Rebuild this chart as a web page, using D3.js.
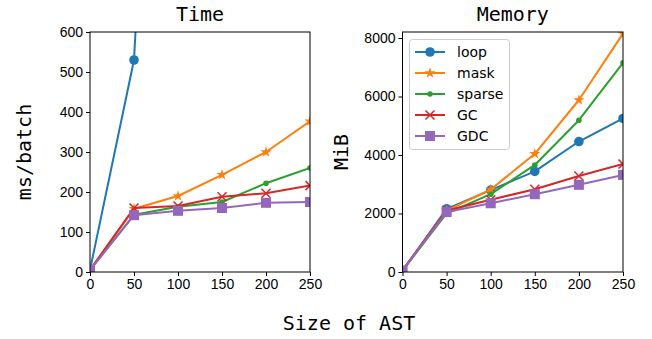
<!DOCTYPE html>
<html>
<head>
<meta charset="utf-8">
<script src="https://d3js.org/d3.v7.min.js"></script>
<style>
  body { margin: 0; background: #fff; }
  svg { font-family: 'DejaVu Sans', sans-serif; }
  .mono { font-family: 'DejaVu Sans Mono', monospace; }
  .tick text { font-size: 14px; fill: #000; }
  .tick line, .domain { stroke: #000; }
</style>
</head>
<body>
<div id="chart"></div>
<script>
// ---- data ----
var sizes = [0, 50, 100, 150, 200, 250];
var names = ["loop", "mask", "sparse", "GC", "GDC"];
var colors = ["#1f77b4", "#ff7f0e", "#2ca02c", "#d62728", "#9467bd"];

// ms/batch (loop leaves the chart after 50)
var timeLoop   = [5, 530, 2600];
var timeMask   = [5, 158, 190, 243, 300, 377];
var timeSparse = [5, 143, 163, 175, 222, 260];
var timeGC     = [5, 160, 165, 188, 197, 216];
var timeGDC    = [5, 142, 153, 160, 173, 175];

// MiB
var memLoop   = [50, 2160, 2800, 3440, 4460, 5250];
var memMask   = [50, 2100, 2820, 4040, 5880, 8150];
var memSparse = [50, 2000, 2660, 3660, 5190, 7150];
var memGC     = [50, 2100, 2470, 2830, 3280, 3690];
var memGDC    = [50, 2050, 2350, 2660, 2980, 3320];

var timeTicks = [0, 100, 200, 300, 400, 500, 600];
var memTicks = [0, 2000, 4000, 6000, 8000];
var xTicks = [0, 50, 100, 150, 200, 250];

var width = 652, height = 339;
var plotTop = 32, plotBottom = 272;

var svg = d3.select("#chart").append("svg")
    .attr("width", width).attr("height", height);

function drawMarker(g, kind, color, x, y) {
  if (kind === "loop") {
    g.append("circle").attr("cx", x).attr("cy", y).attr("r", 4.8).attr("fill", color);
  } else if (kind === "mask") {
    g.append("path").attr("d", d3.symbol().type(d3.symbolStar).size(38)())
      .attr("transform", `translate(${x},${y})`).attr("fill", color);
  } else if (kind === "sparse") {
    g.append("circle").attr("cx", x).attr("cy", y).attr("r", 2.8).attr("fill", color);
  } else if (kind === "GC") {
    var s = 4.5;
    g.append("path").attr("d", `M${x-s},${y-s}L${x+s},${y+s}M${x-s},${y+s}L${x+s},${y-s}`)
      .attr("stroke", color).attr("stroke-width", 1.5).attr("fill", "none");
  } else {
    g.append("rect").attr("x", x - 5).attr("y", y - 5).attr("width", 10).attr("height", 10)
      .attr("fill", color);
  }
}

function panel(id, left, right, ymax, ticks, series, title, ylabel, ylabelX) {
  var x = d3.scaleLinear().domain([0, 250]).range([left, right]);
  var y = d3.scaleLinear().domain([0, ymax]).range([plotBottom, plotTop]);

  svg.append("clipPath").attr("id", id)
    .append("rect").attr("x", left).attr("y", plotTop)
    .attr("width", right - left).attr("height", plotBottom - plotTop);

  var plot = svg.append("g").attr("clip-path", `url(#${id})`);
  var line = d3.line().x((d, i) => x(sizes[i])).y(d => y(d));

  series.forEach(function(vals, k) {
    var g = plot.append("g");
    g.append("path").datum(vals).attr("d", line)
      .attr("fill", "none").attr("stroke", colors[k]).attr("stroke-width", 2)
      .attr("stroke-linejoin", "round");
    vals.forEach(function(v, i) { drawMarker(g, names[k], colors[k], x(sizes[i]), y(v)); });
  });

  svg.append("g").attr("transform", `translate(0,${plotBottom})`)
    .call(d3.axisBottom(x).tickValues(xTicks).tickSize(4).tickPadding(3).tickFormat(d3.format("d")))
    .call(g => g.select(".domain").remove());
  svg.append("g").attr("transform", `translate(${left},0)`)
    .call(d3.axisLeft(y).tickValues(ticks).tickSize(4).tickPadding(3).tickFormat(d3.format("d")))
    .call(g => g.select(".domain").remove());

  svg.append("rect").attr("x", left).attr("y", plotTop)
    .attr("width", right - left).attr("height", plotBottom - plotTop)
    .attr("fill", "none").attr("stroke", "#000").attr("stroke-width", 1);

  svg.append("text").attr("class", "mono")
    .attr("x", (left + right) / 2).attr("y", 21)
    .attr("text-anchor", "middle").style("font-size", "20px").text(title);

  svg.append("text").attr("class", "mono")
    .attr("transform", `translate(${ylabelX},${(plotTop + plotBottom) / 2}) rotate(-90)`)
    .attr("text-anchor", "middle").style("font-size", "20px").text(ylabel);
}

panel("clipTime", 90, 310, 600, timeTicks,
  [timeLoop, timeMask, timeSparse, timeGC, timeGDC], "Time", "ms/batch", 31);
panel("clipMem", 402.5, 623, 8205, memTicks,
  [memLoop, memMask, memSparse, memGC, memGDC], "Memory", "MiB", 348);

svg.append("text").attr("class", "mono")
  .attr("x", 349).attr("y", 330).attr("text-anchor", "middle")
  .style("font-size", "20px").text("Size of AST");

// legend
var legend = svg.append("g");
legend.append("rect").attr("x", 409.5).attr("y", 39.5).attr("width", 100).attr("height", 110)
  .attr("rx", 3).attr("fill", "#fff").attr("fill-opacity", 0.8)
  .attr("stroke", "#ccc").attr("stroke-width", 1);
names.forEach(function(n, k) {
  var ly = 52 + k * 21;
  legend.append("line").attr("x1", 415).attr("x2", 445).attr("y1", ly).attr("y2", ly)
    .attr("stroke", colors[k]).attr("stroke-width", 2);
  drawMarker(legend, n, colors[k], 430, ly);
  legend.append("text").attr("x", 457).attr("y", ly + 5)
    .style("font-size", "14px").text(n);
});
</script>
</body>
</html>
